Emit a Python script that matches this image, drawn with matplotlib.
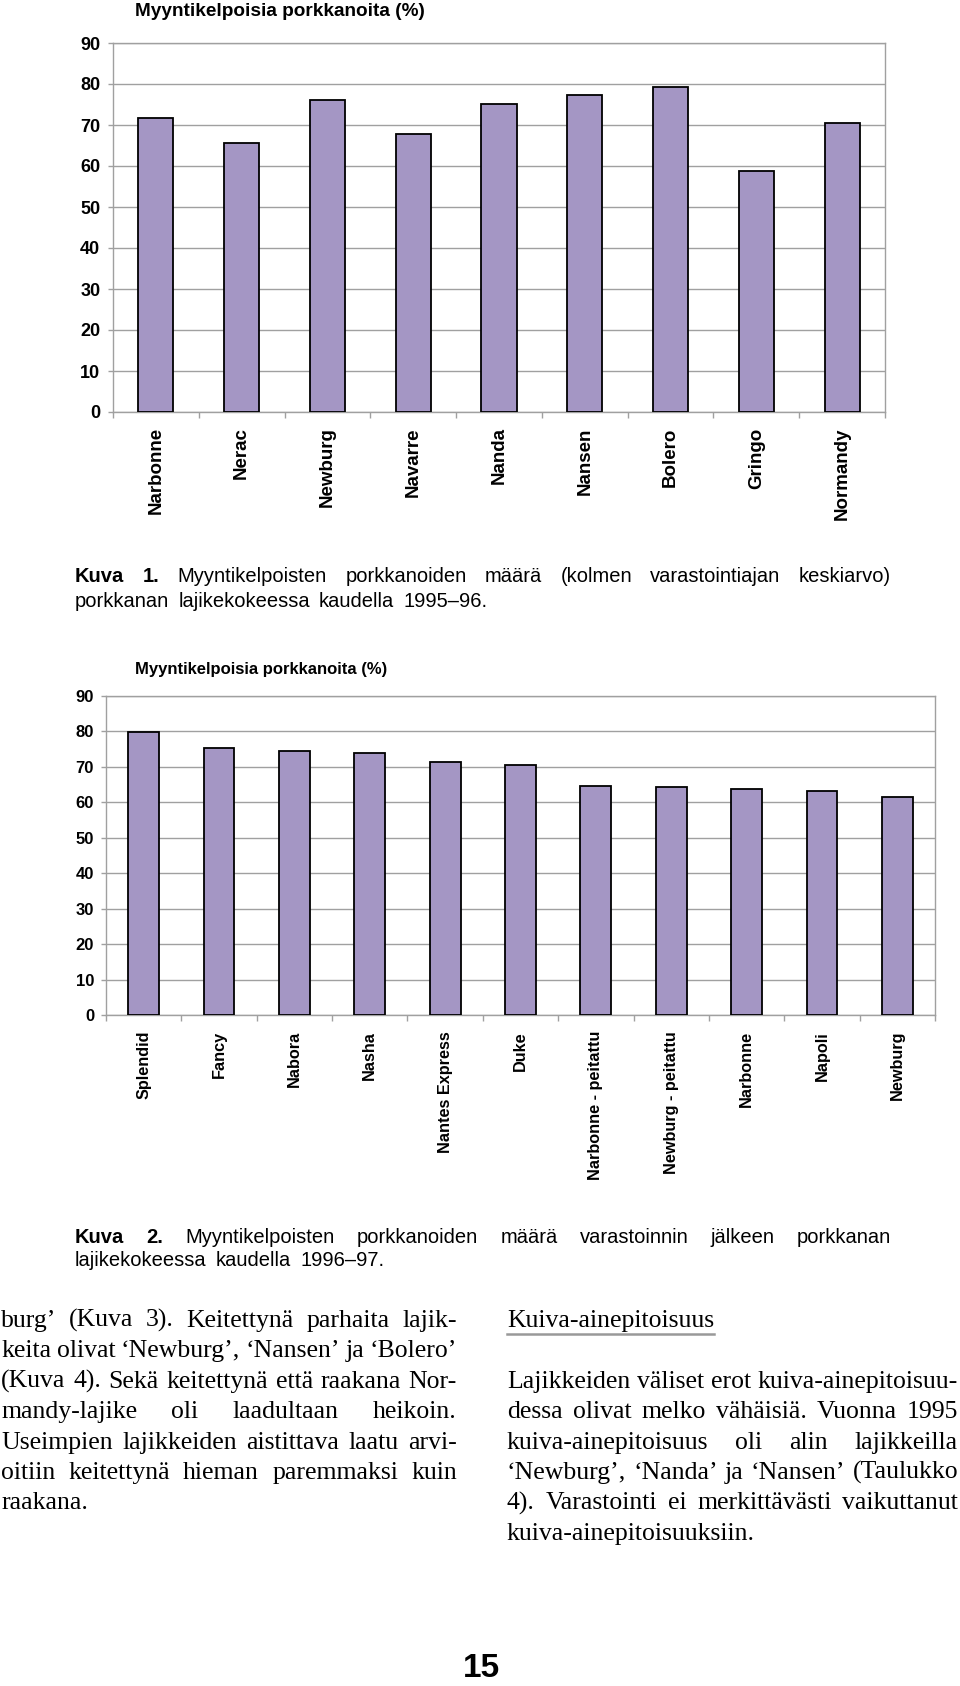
import numpy as np
import matplotlib
matplotlib.use('Agg')
import matplotlib.pyplot as plt
from matplotlib import font_manager
from matplotlib.lines import Line2D

# --- data (percent of sellable carrots) ---
varieties_1995 = ['Narbonne', 'Nerac', 'Newburg', 'Navarre', 'Nanda',
                  'Nansen', 'Bolero', 'Gringo', 'Normandy']
sellable_1995 = [71.8, 65.5, 76.1, 67.7, 75.0, 77.2, 79.3, 58.8, 70.6]

varieties_1996 = ['Splendid', 'Fancy', 'Nabora', 'Nasha', 'Nantes Express',
                  'Duke', 'Narbonne - peitattu', 'Newburg - peitattu',
                  'Narbonne', 'Napoli', 'Newburg']
sellable_1996 = [79.9, 75.4, 74.6, 74.0, 71.3, 70.5, 64.7, 64.2, 63.9, 63.3, 61.6]

y_ticks = [0, 10, 20, 30, 40, 50, 60, 70, 80, 90]
chart_title = 'Myyntikelpoisia porkkanoita (%)'

caption_1 = ['Kuva 1. Myyntikelpoisten porkkanoiden määrä (kolmen varastointiajan keskiarvo)',
             'porkkanan lajikekokeessa kaudella 1995–96.']
caption_2 = ['Kuva 2. Myyntikelpoisten porkkanoiden määrä varastoinnin jälkeen porkkanan',
             'lajikekokeessa kaudella 1996–97.']

left_column = ['burg’ (Kuva 3). Keitettynä parhaita lajik-',
               'keita olivat ‘Newburg’, ‘Nansen’ ja ‘Bolero’',
               '(Kuva 4). Sekä keitettynä että raakana Nor-',
               'mandy-lajike oli laadultaan heikoin.',
               'Useimpien lajikkeiden aistittava laatu arvi-',
               'oitiin keitettynä hieman paremmaksi kuin',
               'raakana.']
right_heading = 'Kuiva-ainepitoisuus'
right_column = ['Lajikkeiden väliset erot kuiva-ainepitoisuu-',
                'dessa olivat melko vähäisiä. Vuonna 1995',
                'kuiva-ainepitoisuus oli alin lajikkeilla',
                '‘Newburg’, ‘Nanda’ ja ‘Nansen’ (Taulukko',
                '4). Varastointi ei merkittävästi vaikuttanut',
                'kuiva-ainepitoisuuksiin.']
page_number = '15'

BAR = '#a496c4'
GRID = '#a0a0a0'
SANS = 'Liberation Sans'
SERIF = 'Liberation Serif'
names = {f.name for f in font_manager.fontManager.ttflist}
NARROW = 'Liberation Sans Narrow' if 'Liberation Sans Narrow' in names else SANS

W, H = 960, 1686
fig = plt.figure(figsize=(W / 100, H / 100), dpi=100)


def fx(px):
    return px / W


def fy(py):
    return 1 - py / H


def bar_chart(left, top, right, bottom, cats, vals, tick_size, label_size,
              title_size, title_x, title_base, xpad, ypad):
    ax = fig.add_axes([fx(left), fy(bottom), (right - left) / W, (bottom - top) / H])
    x = np.arange(len(cats))
    ax.bar(x, vals, width=0.41, color=BAR, edgecolor='black', linewidth=1.3, zorder=3)
    ax.set_xlim(-0.5, len(cats) - 0.5)
    ax.set_ylim(0, 90)
    ax.set_yticks(y_ticks)
    ax.yaxis.grid(True, color=GRID, linewidth=1)
    ax.set_axisbelow(True)
    for s in ax.spines.values():
        s.set_color(GRID)
        s.set_linewidth(1)
    ax.set_xticks(x)
    ax.set_xticklabels(cats, rotation=90, fontsize=label_size, fontweight='bold',
                       family=SANS, va='top', ha='center')
    ax.set_xticks(np.arange(len(cats) + 1) - 0.5, minor=True)
    ax.tick_params(axis='x', which='major', length=0, pad=xpad)
    ax.tick_params(axis='x', which='minor', length=4.3, width=1, color=GRID)
    ax.tick_params(axis='y', length=3.6, width=1, color=GRID, pad=ypad,
                   labelsize=tick_size)
    for lab in ax.get_yticklabels():
        lab.set_fontweight('bold')
        lab.set_family(SANS)
    fig.text(fx(title_x), fy(title_base), chart_title, fontsize=title_size,
             fontweight='bold', family=SANS, va='baseline', ha='left')
    return ax


bar_chart(113, 43, 885, 412, varieties_1995, sellable_1995, 13, 13.5, 13.7, 135, 16, 11, 5.5)
bar_chart(106, 696, 935, 1015, varieties_1996, sellable_1996, 12, 11.7, 12, 135, 674, 11.5, 5)

renderer = fig.canvas.get_renderer()


def place_line(text, x0, x1, base, size, family, justify, bold_words=0, gap_em=0.28):
    words = text.split(' ')
    items = []
    for i, w in enumerate(words):
        t = fig.text(0, fy(base), w, fontsize=size, family=family,
                     fontweight='bold' if i < bold_words else 'normal',
                     va='baseline', ha='left')
        items.append(t)
    widths = [t.get_window_extent(renderer).width for t in items]
    if justify and len(words) > 1:
        gap = (x1 - x0 - sum(widths)) / (len(words) - 1)
    else:
        gap = gap_em * size * 100 / 72
    x = x0
    for t, w in zip(items, widths):
        t.set_x(fx(x))
        x += w + gap
    return items


# captions
place_line(caption_1[0], 75, 891, 582, 14.5, SANS, True, bold_words=2)
place_line(caption_1[1], 75, 891, 607, 14.5, SANS, False, gap_em=0.45)
place_line(caption_2[0], 75, 891, 1243, 14.5, SANS, True, bold_words=2)
place_line(caption_2[1], 75, 891, 1266, 14.5, SANS, False, gap_em=0.45)

# body text, two justified columns
body_size = 18.5
base0 = 1327
step = 30.4
for i, line in enumerate(left_column):
    place_line(line, 1, 457, base0 + i * step, body_size, SERIF,
               i < len(left_column) - 1)

head = fig.text(fx(507), fy(base0), right_heading, fontsize=body_size,
                family=SERIF, va='baseline', ha='left')
hw = head.get_window_extent(renderer).width
fig.add_artist(Line2D([fx(507), fx(507 + hw)], [fy(base0 + 7), fy(base0 + 7)],
                      color='#999999', linewidth=1.8, transform=fig.transFigure))
for i, line in enumerate(right_column):
    place_line(line, 507, 958, base0 + (i + 2) * step, body_size, SERIF,
               i < len(right_column) - 1)

fig.text(fx(481), fy(1677), page_number, fontsize=24, fontweight='bold',
         family=NARROW, va='baseline', ha='center')

fig.savefig('out.png', dpi=100)
